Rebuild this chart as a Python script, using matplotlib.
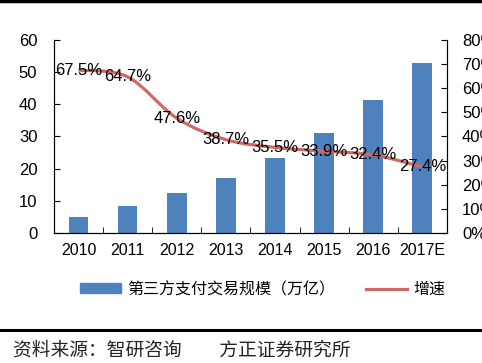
import numpy as np
import matplotlib.pyplot as plt
from matplotlib.path import Path
from matplotlib.patches import PathPatch, Patch
from matplotlib.lines import Line2D

plt.rcParams['font.family'] = ['Liberation Sans', 'Noto Sans CJK SC', 'DejaVu Sans']

years = ['2010', '2011', '2012', '2013', '2014', '2015', '2016', '2017E']
volume = [5.1, 8.3, 12.4, 17.2, 23.3, 31.1, 41.4, 52.8]   # 万亿
growth = [67.5, 64.7, 47.6, 38.7, 35.5, 33.9, 32.4, 27.4]  # %
bar_name = '第三方支付交易规模（万亿）'
line_name = '增速'
source = '资料来源：智研咨询　　方正证券研究所'

bar_color = '#4F81BD'
line_color = '#CD6A66'


def smooth_path(xs, ys, t=0.5):
    # excel-like smoothed line: bezier segments through every point
    xs = np.asarray(xs, float)
    ys = np.asarray(ys, float)
    n = len(xs)
    verts = [(xs[0], ys[0])]
    codes = [Path.MOVETO]
    for i in range(n - 1):
        p0 = (xs[max(i - 1, 0)], ys[max(i - 1, 0)])
        p1 = (xs[i], ys[i])
        p2 = (xs[i + 1], ys[i + 1])
        p3 = (xs[min(i + 2, n - 1)], ys[min(i + 2, n - 1)])
        c1 = (p1[0] + (p2[0] - p0[0]) * t / 3, p1[1] + (p2[1] - p0[1]) * t / 3)
        c2 = (p2[0] - (p3[0] - p1[0]) * t / 3, p2[1] - (p3[1] - p1[1]) * t / 3)
        verts += [c1, c2, p2]
        codes += [Path.CURVE4] * 3
    return Path(verts, codes)


fig = plt.figure(figsize=(4.82, 3.63), dpi=100)
ax = fig.add_axes([0.112, 0.358, 0.815, 0.532])
x = np.arange(len(years))

ax.bar(x, volume, width=0.4, color=bar_color, zorder=2)
ax.set_xlim(-0.5, len(years) - 0.5)
ax.set_ylim(0, 60)
ax.set_yticks(range(0, 61, 10))
ax.set_xticks(x)
ax.set_xticklabels(years)
ax.set_xticks(np.arange(-0.5, len(years), 1), minor=True)
ax.tick_params(axis='x', which='major', length=0, pad=7, labelsize=11.5)
ax.tick_params(axis='x', which='minor', direction='in', length=4)
ax.tick_params(axis='y', direction='in', length=4, pad=12, labelsize=12)
ax.spines['top'].set_visible(False)

ax2 = ax.twinx()
ax2.set_ylim(0, 80)
ax2.set_yticks(range(0, 81, 10))
ax2.set_yticklabels([f'{v}%' for v in range(0, 81, 10)])
ax2.tick_params(axis='y', direction='in', length=4, pad=11, labelsize=12)
ax2.spines['top'].set_visible(False)

ax2.add_patch(PathPatch(smooth_path(x, growth), facecolor='none',
                        edgecolor=line_color, lw=2.3, zorder=3))
for xi, g in zip(x, growth):
    ax2.text(xi, g, f'{g}%', ha='center', va='center', fontsize=12, zorder=4)

handles = [Patch(color=bar_color), Line2D([], [], color=line_color, lw=2.3)]
fig.legend(handles, [bar_name, line_name], loc='center', ncol=2,
           bbox_to_anchor=(0.545, 0.203), frameon=False, fontsize=11.5,
           handlelength=2.6, handleheight=0.6, columnspacing=1.9, handletextpad=0.4)

# frame lines of the report page
fig.add_artist(Line2D([0, 1], [0.997, 0.997], color='black', lw=2.5))
fig.add_artist(Line2D([0, 1], [0.09, 0.09], color='black', lw=2.2))
fig.text(0.027, 0.036, source, fontsize=13.5, style='italic', color='#222222',
         family=['Noto Sans CJK SC', 'DejaVu Sans'], va='center')

fig.savefig('out.png', dpi=100)
